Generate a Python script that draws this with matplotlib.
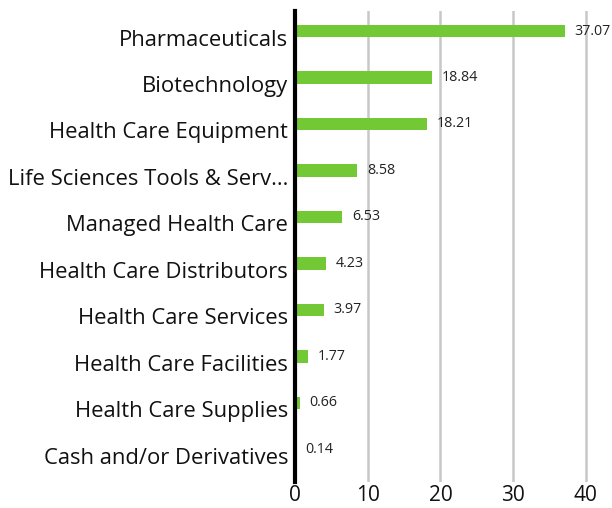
import matplotlib
matplotlib.use("Agg")
import matplotlib.pyplot as plt
from matplotlib.transforms import ScaledTranslation

categories = ["Pharmaceuticals", "Biotechnology", "Health Care Equipment",
              "Life Sciences Tools & Serv...", "Managed Health Care",
              "Health Care Distributors", "Health Care Services",
              "Health Care Facilities", "Health Care Supplies",
              "Cash and/or Derivatives"]
values = [37.07, 18.84, 18.21, 8.58, 6.53, 4.23, 3.97, 1.77, 0.66, 0.14]
value_labels = ["37.07", "18.84", "18.21", "8.58", "6.53", "4.23", "3.97", "1.77", "0.66", "0.14"]
xticks = [0, 10, 20, 30, 40]

plt.rcParams['font.family'] = ['Open Sans', 'DejaVu Sans']

fig = plt.figure(figsize=(6.12, 5.08), dpi=100)
ax = fig.add_axes([0.482, 0.0512, 0.511, 0.9271])

y = list(range(len(categories)))
ax.barh(y, values, height=0.26, color='#73C935', zorder=3)
for yi, v, lab in zip(y, values, value_labels):
    ax.annotate(lab, (v, yi), xytext=(7, 0), textcoords='offset points',
                ha='left', va='center', fontsize=10.3, color='#222222', zorder=4)

ax.set_xlim(0, 43)
ax.set_ylim(9.70, -0.43)
ax.set_yticks(y)
ax.set_yticklabels(categories, fontsize=15.8, color='#111111')
ax.set_xticks(xticks)
ax.set_xticklabels([str(t) for t in xticks], fontsize=15, color='#111111')
ax.tick_params(axis='both', length=0)
ax.tick_params(axis='y', pad=5)
ax.tick_params(axis='x', pad=2)

shift = ScaledTranslation(0, -0.065, fig.dpi_scale_trans)
for lbl in ax.get_yticklabels():
    lbl.set_transform(lbl.get_transform() + shift)

for t in xticks[1:]:
    ax.axvline(t, color='#c8c8c8', lw=1.8, zorder=1)

for s in ['top', 'right', 'bottom']:
    ax.spines[s].set_visible(False)
ax.spines['left'].set_linewidth(3)
ax.spines['left'].set_color('black')
ax.spines['left'].set_zorder(5)

fig.savefig("out.png", dpi=100)
